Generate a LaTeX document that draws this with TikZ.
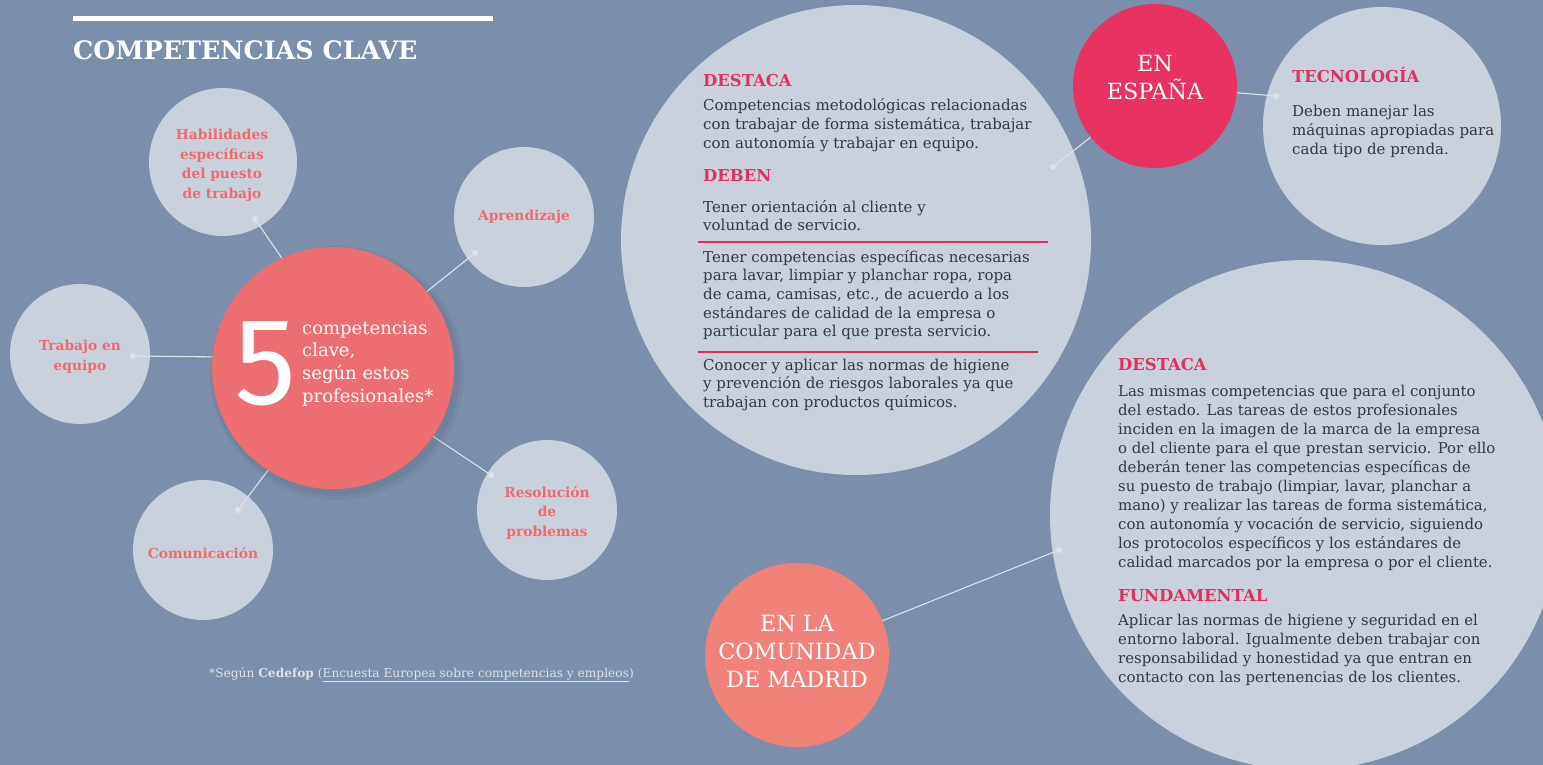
\documentclass[tikz,border=0pt]{standalone}
\usepackage{fontspec}
\setmainfont{DejaVu Serif}
\newfontfamily\fivefont{Fira Sans}
\definecolor{bgc}{HTML}{7B8FAA}
\definecolor{lightc}{HTML}{C9D1DD}
\definecolor{coral}{HTML}{EC6E70}
\definecolor{coraltxt}{HTML}{EE6A6C}
\definecolor{pinkred}{HTML}{E73262}
\definecolor{salmon}{HTML}{F0827A}
\definecolor{headc}{HTML}{E1305E}
\definecolor{bodyc}{HTML}{34393F}
\definecolor{linec}{HTML}{DDE3EA}
\tikzset{
  bubble/.style={circle, fill=#1, draw=none, inner sep=0pt},
  skill/.style={text=coraltxt, font=\fontsize{13.8}{19.5}\selectfont\bfseries, align=center},
  conn/.style={draw=linec, line width=1.1pt},
  dotc/.style={circle, fill=linec, draw=none, inner sep=0pt, minimum size=6pt},
  head/.style={anchor=base west, inner sep=0pt, text=headc, font=\fontsize{16.4}{18}\selectfont\bfseries},
  body/.style={anchor=base west, inner sep=0pt, text=bodyc, align=left, font=\fontsize{15}{18.7}\selectfont},
  bodym/.style={anchor=base west, inner sep=0pt, text=bodyc, align=left, font=\fontsize{14.9}{19}\selectfont},
  bigtitle/.style={anchor=base, inner sep=0pt, text=white, align=center, font=\fontsize{22.3}{28}\selectfont},
  sepline/.style={draw=headc, line width=1.1pt}
}
\begin{document}
\begin{tikzpicture}[x=1pt,y=-1pt]
\useasboundingbox (0,0) rectangle (1543,765);
\fill[bgc] (0,0) rectangle (1543,765);

% title
\draw[white, line width=5pt] (73,19) -- (493,19);
\node[anchor=base west, inner sep=0pt, text=white, font=\fontsize{25.4}{30}\selectfont\bfseries] (title) at (73,60) {COMPETENCIAS CLAVE};

% skill circles
\node[bubble=lightc, minimum size=148pt] (hab) at (223,162) {};
\node[bubble=lightc, minimum size=140pt] (apr) at (524,217) {};
\node[bubble=lightc, minimum size=140pt] (tra) at (80,354) {};
\node[bubble=lightc, minimum size=140pt] (com) at (203,550) {};
\node[bubble=lightc, minimum size=140pt] (res) at (547,510) {};

% (base anchor of a multi-line node = baseline of its last line)
\node[skill, anchor=base] (habt) at (222,198) {Habilidades\\específicas\\del puesto\\de trabajo};
\node[skill, anchor=base] (aprt) at (524,220) {Aprendizaje};
\node[skill, anchor=base] (trat) at (80,370) {Trabajo en\\equipo};
\node[skill, anchor=base] (comt) at (203,558) {Comunicación};
\node[skill, anchor=base] (rest) at (547,536) {Resolución\\de\\problemas};

% central circle and connectors
\coordinate (cc) at (333,368);
\coordinate (kh) at (290,270);
\coordinate (ka) at (420,297);
\coordinate (kt) at (225,357);
\coordinate (kc) at (272,465);
\coordinate (kr) at (425,431);
\node[dotc] (dh) at (255,219) {};
\node[dotc] (da) at (475,253) {};
\node[dotc] (dt) at (133,356) {};
\node[dotc] (dc) at (238,510) {};
\node[dotc] (dr) at (491,475) {};
\draw[conn] (dh) -- (kh);
\draw[conn] (da) -- (ka);
\draw[conn] (dt) -- (kt);
\draw[conn] (dc) -- (kc);
\draw[conn] (dr) -- (kr);

% soft shadow of central circle
\fill[black, opacity=0.04] (337,373) circle[radius=127pt];
\fill[black, opacity=0.05] (336,372) circle[radius=124pt];
\node[bubble=coral, minimum size=242pt] (c5) at (cc) {};
\node[anchor=base west, inner sep=0pt, text=white, font=\fivefont\fontsize{124}{124}\selectfont] (five) at (234,404) {5};
\node[anchor=base west, inner sep=0pt, text=white, align=left, font=\fontsize{18}{22.6}\selectfont] (fivet) at (302,402) {competencias\\clave,\\según estos\\profesionales*};

% footnote
\node[anchor=base west, inner sep=0pt, text=linec, font=\fontsize{12.2}{14}\selectfont] (foot) at (209,677) {*Según \textbf{Cedefop} (\underline{Encuesta Europea sobre competencias y empleos})};

% ===== En España =====
\node[bubble=lightc, minimum size=470pt] (espbig) at (856,240) {};
\node[bubble=lightc, minimum size=238pt] (tec) at (1382,126) {};
\node[dotc] (de) at (1053,167) {};
\node[dotc] (dtec) at (1276,96) {};
\coordinate (ec) at (1155,86);
\draw[conn] (de) -- (ec);
\draw[conn] (dtec) -- (ec);
\node[bubble=pinkred, minimum size=164pt] (esp) at (ec) {};
\node[bigtitle] (espt) at (1155,100) {EN\\ESPAÑA};

\node[head] (h1) at (703,87) {DESTACA};
\node[body] (p1) at (703,148.4) {Competencias metodológicas relacionadas\\con trabajar de forma sistemática, trabajar\\con autonomía y trabajar en equipo.};
\node[head] (h2) at (703,182) {DEBEN};
\node[body] (p2) at (703,230.7) {Tener orientación al cliente y\\voluntad de servicio.};
\coordinate (l1a) at (698,242); \coordinate (l1b) at (1048,242);
\draw[sepline] (l1a) -- (l1b);
\node[body] (p3) at (703,336.8) {Tener competencias específicas necesarias\\para lavar, limpiar y planchar ropa, ropa\\de cama, camisas, etc., de acuerdo a los\\estándares de calidad de la empresa o\\particular para el que presta servicio.};
\coordinate (l2a) at (698,352); \coordinate (l2b) at (1038,352);
\draw[sepline] (l2a) -- (l2b);
\node[body] (p4) at (703,407.4) {Conocer y aplicar las normas de higiene\\y prevención de riesgos laborales ya que\\trabajan con productos químicos.};

\node[head] (h3) at (1292,83) {TECNOLOGÍA};
\node[body] (p5) at (1292,154.4) {Deben manejar las\\máquinas apropiadas para\\cada tipo de prenda.};

% ===== Madrid =====
\node[bubble=lightc, minimum size=510pt] (madbig) at (1305,515) {};
\node[dotc] (dm) at (1059,550) {};
\coordinate (mc) at (797,655);
\draw[conn] (dm) -- (mc);
\node[bubble=salmon, minimum size=184pt] (mad) at (mc) {};
\node[bigtitle] (madt) at (797,687) {EN LA\\COMUNIDAD\\DE MADRID};

\node[head] (h4) at (1118,370) {DESTACA};
\node[bodym] (p6) at (1118,567) {Las mismas competencias que para el conjunto\\del estado. Las tareas de estos profesionales\\inciden en la imagen de la marca de la empresa\\o del cliente para el que prestan servicio. Por ello\\deberán tener las competencias específicas de\\su puesto de trabajo (limpiar, lavar, planchar a\\mano) y realizar las tareas de forma sistemática,\\con autonomía y vocación de servicio, siguiendo\\los protocolos específicos y los estándares de\\calidad marcados por la empresa o por el cliente.};
\node[head] (h5) at (1118,601) {FUNDAMENTAL};
\node[bodym] (p7) at (1118,682) {Aplicar las normas de higiene y seguridad en el\\entorno laboral. Igualmente deben trabajar con\\responsabilidad y honestidad ya que entran en\\contacto con las pertenencias de los clientes.};
\end{tikzpicture}
\end{document}
